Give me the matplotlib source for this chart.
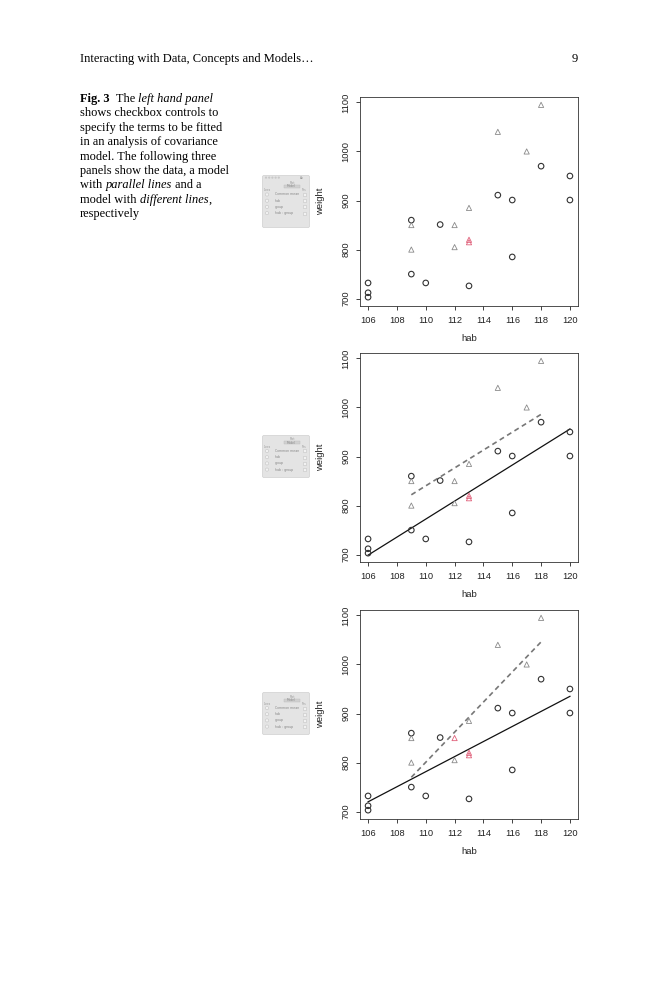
import numpy as np
import matplotlib.pyplot as plt
from matplotlib.patches import FancyBboxPatch, Circle, Rectangle

W, H = 659, 1000

# group 1 (circles)
hab_1 = [106, 106, 106, 109, 109, 110, 111, 113, 115, 116, 116, 118, 120, 120]
wt_1 = [732, 712, 703, 860, 750, 732, 851, 726, 911, 901, 785, 970, 950, 901]
# group 2 (triangles)
hab_2 = [109, 109, 112, 112, 113, 113, 113, 115, 117, 118]
wt_2 = [850, 800, 850, 805, 885, 820, 815, 1040, 1000, 1095]

# highlighted (red) triangles in each panel
red_2 = [[5, 6], [5, 6], [2, 5, 6]]

# fitted lines: (x0, x1, y0, y1)
fit_1 = [None, (106, 120, 699, 956), (106, 120, 720, 935)]
fit_2 = [None, (109, 118, 822, 986), (109, 118, 770, 1046)]

# axes frame tops (px)
tops = [97, 353, 610]
# control panel boxes (x0, y0, x1, y1) in px
boxes = [(262, 175, 310, 228), (262, 435, 310, 478), (262, 692, 310, 735)]
rows = ["Common mean", "hab", "group", "hab : group"]

fig = plt.figure(figsize=(W / 100, H / 100), dpi=100)
fig.patch.set_facecolor("white")

def fx(x):
    return x / W

def fy(y):
    return 1 - y / H

serif = "Liberation Serif"
sans = "Liberation Sans"

# running header
fig.text(fx(80), fy(62), "Interacting with Data, Concepts and Models\u2026",
         family=serif, fontsize=9.0, va="baseline")
fig.text(fx(578), fy(62), "9", family=serif, fontsize=9.0, va="baseline", ha="right")

# caption, drawn run by run
renderer = fig.canvas.get_renderer()

def runs(x, y, parts, size=8.9):
    for s, w, st in parts:
        t = fig.text(fx(x), fy(y), s, family=serif, fontsize=size,
                     weight=w, style=st, va="baseline")
        x += t.get_window_extent(renderer).width

n, b, i = "normal", "bold", "italic"
caption = [
    [("Fig. 3", b, n), ("  The ", n, n), ("left hand panel", n, i)],
    [("shows checkbox controls to", n, n)],
    [("specify the terms to be fitted", n, n)],
    [("in an analysis of covariance", n, n)],
    [("model. The following three", n, n)],
    [("panels show the data, a model", n, n)],
    [("with ", n, n), ("parallel lines", n, i), (" and a", n, n)],
    [("model with ", n, n), ("different lines", n, i), (",", n, n)],
    [("respectively", n, n)],
]
for k, line in enumerate(caption):
    runs(80, 102 + k * 14.4, line)

for p in range(3):
    top = tops[p]
    ax = fig.add_axes([fx(360), fy(top + 209), 218 / W, 209 / H])
    ax.set_xlim(105.44, 120.56)
    ax.set_ylim(685, 1111)

    c2 = ["#e0607a" if j in red_2[p] else "#8a8a8a" for j in range(len(hab_2))]
    ax.scatter(hab_1, wt_1, s=16, facecolors="none", edgecolors="#333333",
               linewidths=0.8, zorder=3)
    ax.scatter(hab_2, wt_2, s=14, marker="^", facecolors="none", edgecolors=c2,
               linewidths=0.6, zorder=3)

    if fit_1[p] is not None:
        x0, x1, y0, y1 = fit_1[p]
        ax.plot([x0, x1], [y0, y1], color="#111111", lw=0.9, zorder=2)
        x0, x1, y0, y1 = fit_2[p]
        ax.plot([x0, x1], [y0, y1], color="#777777", lw=1.2, ls=(0, (3, 2.2)), zorder=2)

    ax.set_xticks([106, 108, 110, 112, 114, 116, 118, 120])
    ax.set_yticks([700, 800, 900, 1000, 1100])
    ax.tick_params(direction="out", length=3, width=0.6, labelsize=6.7, pad=4,
                   colors="#222222")
    for lab in ax.get_xticklabels():
        lab.set_family(sans)
    for lab in ax.get_yticklabels():
        lab.set_family(sans)
        lab.set_rotation(90)
        lab.set_va("center")
    for s in ax.spines.values():
        s.set_linewidth(0.6)
        s.set_color("#333333")
    ax.set_xlabel("hab", family=sans, fontsize=6.8, color="#222222")
    ax.set_ylabel("weight", family=sans, fontsize=6.8, color="#222222")
    ax.xaxis.set_label_coords(0.5, -0.135)
    ax.yaxis.set_label_coords(-0.16, 0.5)

    # little control panel screenshot
    bx0, by0, bx1, by1 = boxes[p]
    pa = fig.add_axes([fx(bx0), fy(by1), (bx1 - bx0) / W, (by1 - by0) / H])
    pa.set_xlim(0, bx1 - bx0)
    pa.set_ylim(by1 - by0, 0)
    pa.axis("off")
    bw, bh = bx1 - bx0, by1 - by0
    pa.add_patch(FancyBboxPatch((0.5, 0.5), bw - 1, bh - 1,
                                boxstyle="round,pad=0,rounding_size=1.5",
                                fc="#e4e4e4", ec="#cfcfcf", lw=0.5))
    y = 3
    if p == 0:
        for k in range(5):
            pa.add_patch(Circle((4 + k * 3.2, 2.6), 1.1, fc="#c8c8c8", ec="none"))
        pa.text(bw - 10, 2.8, "An", fontsize=2.2, color="#888888", va="center")
        y = 6.5
    pa.text(bw / 2 + 4, y + 1.5, "Plot", fontsize=2.2, color="#999999", va="center")
    pa.add_patch(Rectangle((bw / 2 - 2, y + 3.5), 16, 3, fc="#d0d0d0", ec="#bdbdbd", lw=0.3))
    pa.text(bw / 2 + 1, y + 5, "Model", fontsize=2.2, color="#888888", va="center")
    y += 9
    pa.text(2, y, "Lines", fontsize=2, color="#999999", va="center")
    pa.text(bw - 8, y, "Fits", fontsize=2, color="#999999", va="center")
    for k, r in enumerate(rows):
        yy = y + 4 + k * 6.2
        pa.add_patch(Circle((5, yy), 1.6, fc="#f2f2f2", ec="#c4c4c4", lw=0.4))
        pa.add_patch(Rectangle((bw - 7, yy - 1.5), 3, 3, fc="#f2f2f2", ec="#c4c4c4", lw=0.4))
        pa.text(13, yy, r, fontsize=2.3, color="#888888", va="center")

fig.savefig("out.png", dpi=100)
